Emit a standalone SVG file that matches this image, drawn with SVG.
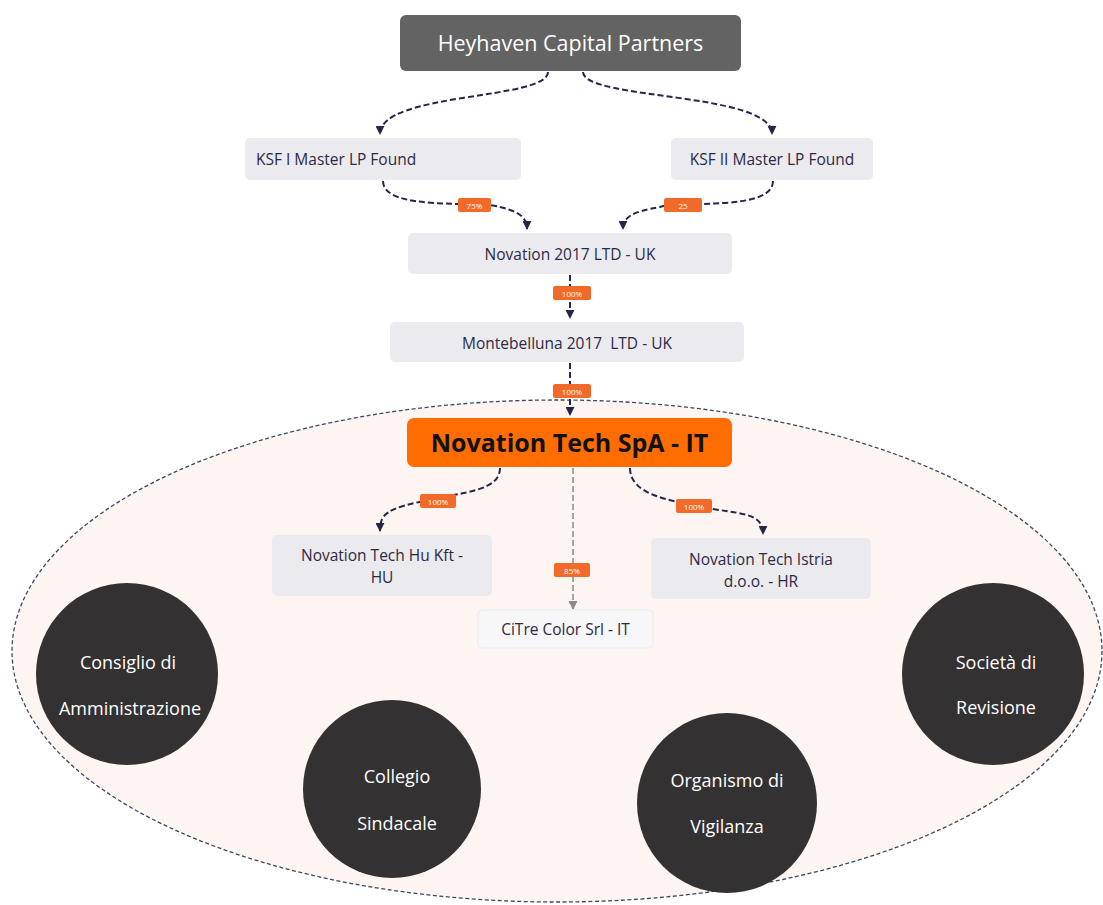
<svg xmlns="http://www.w3.org/2000/svg" width="1103" height="905" viewBox="0 0 1103 905">
<defs>
<style>
.box{fill:#ebeaee;}
.lt{font-family:"Open Sans",Lato,sans-serif;font-size:15.5px;fill:#2b2a45;text-anchor:middle;}
.conn{fill:none;stroke:#23264a;stroke-width:2;stroke-dasharray:6,3;}
.lab rect{fill:#f26a2a;}
.lab text{font-family:"Open Sans","Liberation Sans",sans-serif;font-size:8px;fill:#ffffff;text-anchor:middle;}
.circ circle{fill:#333132;}
.circ text{font-family:"Open Sans","Liberation Sans",sans-serif;font-size:18px;fill:#ffffff;text-anchor:middle;}
</style>
<marker id="arr" viewBox="0 0 10 10" refX="9" refY="5" markerWidth="9" markerHeight="9" orient="auto" markerUnits="userSpaceOnUse">
<path d="M0,0 L10,5 L0,10 Z" fill="#23264a"/>
</marker>
<marker id="arrg" viewBox="0 0 10 10" refX="9" refY="5" markerWidth="9" markerHeight="9" orient="auto" markerUnits="userSpaceOnUse">
<path d="M0,0 L10,5 L0,10 Z" fill="#8a8a8a"/>
</marker>
</defs>
<rect width="1103" height="905" fill="#ffffff"/>

<g id="scope">
<ellipse cx="557" cy="651" rx="545" ry="251" fill="#fdf5f2" stroke="#3d4a5c" stroke-width="1.3" stroke-dasharray="4,2.5"/>
</g>

<g id="connectors">
<path class="conn" d="M548 72 C548 100 380 92 380 134" marker-end="url(#arr)"/>
<path class="conn" d="M583 72 C583 100 772 92 772 134" marker-end="url(#arr)"/>
<path class="conn" d="M383 181 C383 212 480 200 500 207 C520 212 527 218 527 229" marker-end="url(#arr)"/>
<path class="conn" d="M773 181 C773 212 680 200 660 207 C630 212 623 218 623 229" marker-end="url(#arr)"/>
<path class="conn" d="M570 275 L570 318" marker-end="url(#arr)"/>
<path class="conn" d="M570 363 L570 415" marker-end="url(#arr)"/>
<path class="conn" d="M500 468 C500 492 460 492 430 500 C385 508 380 515 380 531" marker-end="url(#arr)"/>
<path class="conn" d="M630 468 C630 495 670 500 700 507 C740 514 763 512 763 534" marker-end="url(#arr)"/>
<path d="M573 468 L573 609" fill="none" stroke="#8a8a8a" stroke-width="1.5" stroke-dasharray="6,3" marker-end="url(#arrg)"/>
</g>

<g id="labels">
<g class="lab"><rect x="458" y="198" width="33" height="14" rx="2"/><text x="474.5" y="208.5">75%</text></g>
<g class="lab"><rect x="664" y="198" width="38" height="14" rx="2"/><text x="683" y="208.5">25</text></g>
<g class="lab"><rect x="553" y="286" width="38" height="14" rx="2"/><text x="572" y="296.5">100%</text></g>
<g class="lab"><rect x="553" y="384" width="38" height="14" rx="2"/><text x="572" y="394.5">100%</text></g>
<g class="lab"><rect x="420" y="494" width="36" height="14" rx="2"/><text x="438" y="504.5">100%</text></g>
<g class="lab"><rect x="676" y="499" width="36" height="14" rx="2"/><text x="694" y="509.5">100%</text></g>
<g class="lab"><rect x="554" y="563" width="36" height="14" rx="2"/><text x="572" y="573.5">85%</text></g>
</g>

<g id="heyhaven">
<rect x="400" y="15" width="341" height="56" rx="6" fill="#636363"/>
<text x="570.5" y="51" font-family="'Open Sans',Lato,sans-serif" font-size="21.5" fill="#ffffff" text-anchor="middle">Heyhaven Capital Partners</text>
</g>
<g id="ksf1">
<rect class="box" x="245" y="138" width="276" height="42" rx="5"/>
<text class="lt" x="256" y="164.5" style="text-anchor:start">KSF I Master LP Found</text>
</g>
<g id="ksf2">
<rect class="box" x="671" y="138" width="202" height="42" rx="5"/>
<text class="lt" x="772" y="164.5">KSF II Master LP Found</text>
</g>
<g id="novation2017">
<rect class="box" x="408" y="233" width="324" height="41" rx="5"/>
<text class="lt" x="570" y="259.5">Novation 2017 LTD - UK</text>
</g>
<g id="montebelluna">
<rect class="box" x="390" y="322" width="354" height="40" rx="5"/>
<text class="lt" x="567" y="348.5" xml:space="preserve">Montebelluna 2017  LTD - UK</text>
</g>
<g id="novationtech">
<rect x="407" y="418" width="325" height="49" rx="7" fill="#ff6d00"/>
<text x="569.5" y="451.5" font-family="'Open Sans',Lato,sans-serif" font-size="25" font-weight="bold" fill="#111111" text-anchor="middle">Novation Tech SpA - IT</text>
</g>
<g id="hukft">
<rect class="box" x="272" y="535" width="220" height="61" rx="5"/>
<text class="lt" x="382" y="560.5">Novation Tech Hu Kft -</text>
<text class="lt" x="382" y="582.5">HU</text>
</g>
<g id="istria">
<rect class="box" x="651" y="538" width="220" height="61" rx="5"/>
<text class="lt" x="761" y="564.5">Novation Tech Istria</text>
<text class="lt" x="761" y="586.5">d.o.o. - HR</text>
</g>
<g id="citre">
<rect x="478" y="610" width="175" height="38" rx="4" fill="#f7f6f8" stroke="#ecebee" stroke-width="1"/>
<text class="lt" x="565.5" y="634.5">CiTre Color Srl - IT</text>
</g>

<g id="consiglio" class="circ">
<circle cx="127" cy="674" r="91"/>
<text x="128" y="669">Consiglio di</text>
<text x="130" y="715">Amministrazione</text>
</g>
<g id="collegio" class="circ">
<circle cx="392" cy="789" r="89"/>
<text x="397" y="783">Collegio</text>
<text x="397" y="830">Sindacale</text>
</g>
<g id="organismo" class="circ">
<circle cx="727" cy="803" r="90"/>
<text x="727" y="787">Organismo di</text>
<text x="727" y="833">Vigilanza</text>
</g>
<g id="societa" class="circ">
<circle cx="993" cy="674" r="91"/>
<text x="996" y="669">Società di</text>
<text x="996" y="714">Revisione</text>
</g>
</svg>
